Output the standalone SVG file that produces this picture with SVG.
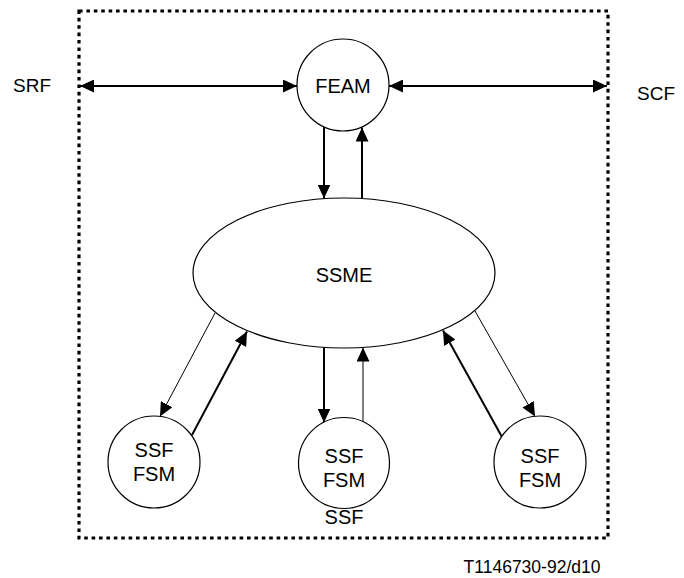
<svg xmlns="http://www.w3.org/2000/svg" width="684" height="578" viewBox="0 0 684 578">
  <style>
    .node { fill: #fff; stroke: #000; stroke-width: 1.2; }
    .lbl { font-family: "Liberation Sans", Arial, Helvetica, sans-serif; font-size: 20px; fill: #000; text-anchor: middle; }
    .side { font-family: "Liberation Sans", Arial, Helvetica, sans-serif; font-size: 19px; fill: #000; }
    .ref { font-family: "Liberation Sans", Arial, Helvetica, sans-serif; font-size: 17.5px; fill: #000; text-anchor: middle; }
    .thick { stroke: #000; stroke-width: 2; fill: none; }
    .thin { stroke: #000; stroke-width: 1; fill: none; }
    .boundary { fill: none; stroke: #000; stroke-width: 3.2; stroke-dasharray: 3.6 3.8; }
  </style>
  <defs>
    <marker id="head" markerUnits="userSpaceOnUse" markerWidth="15" markerHeight="13" refX="14" refY="6.5" orient="auto-start-reverse">
      <path d="M0,0 L14,6.5 L0,13 Z" fill="#000"/>
    </marker>
  </defs>

  <rect width="684" height="578" fill="#fff"/>

  <!-- SSF boundary -->
  <rect class="boundary" x="79" y="11" width="529" height="527"/>

  <!-- external labels -->
  <text class="side" x="13" y="92">SRF</text>
  <text class="side" x="637" y="100">SCF</text>
  <text class="lbl" x="344" y="524">SSF</text>
  <text class="ref" x="532" y="573">T1146730-92/d10</text>

  <!-- connectors -->
  <g id="connectors">
    <line class="thick" x1="80" y1="86" x2="297" y2="86" marker-start="url(#head)" marker-end="url(#head)"/>
    <line class="thick" x1="389" y1="86" x2="607" y2="86" marker-start="url(#head)" marker-end="url(#head)"/>
    <line class="thick" x1="324" y1="127" x2="324" y2="198.5" marker-end="url(#head)"/>
    <line class="thick" x1="362" y1="198.5" x2="362" y2="127.5" marker-end="url(#head)"/>
    <line class="thick" x1="324" y1="347.5" x2="324" y2="422.5" marker-end="url(#head)"/>
    <line class="thin" x1="363" y1="422" x2="363" y2="347.5" marker-end="url(#head)"/>
    <line class="thin" x1="215" y1="313" x2="160" y2="416.5" marker-end="url(#head)"/>
    <line class="thick" x1="192" y1="435" x2="247" y2="331.5" marker-end="url(#head)"/>
    <line class="thick" x1="502" y1="437" x2="443" y2="330.5" marker-end="url(#head)"/>
    <line class="thin" x1="475" y1="311" x2="535" y2="416.5" marker-end="url(#head)"/>
  </g>

  <g id="feam">
    <circle class="node" cx="343" cy="85" r="46"/>
    <text class="lbl" x="343" y="93">FEAM</text>
  </g>

  <g id="ssme">
    <ellipse class="node" cx="344" cy="273" rx="151" ry="75"/>
    <text class="lbl" x="344" y="282">SSME</text>
  </g>

  <g id="fsm-left">
    <circle class="node" cx="154" cy="462" r="46"/>
    <text class="lbl" x="154" y="457">SSF</text>
    <text class="lbl" x="154" y="481">FSM</text>
  </g>

  <g id="fsm-middle">
    <circle class="node" cx="344" cy="463" r="45.5"/>
    <text class="lbl" x="344" y="463">SSF</text>
    <text class="lbl" x="344" y="487">FSM</text>
  </g>

  <g id="fsm-right">
    <circle class="node" cx="540" cy="462" r="46"/>
    <text class="lbl" x="540" y="463">SSF</text>
    <text class="lbl" x="540" y="487">FSM</text>
  </g>
</svg>
